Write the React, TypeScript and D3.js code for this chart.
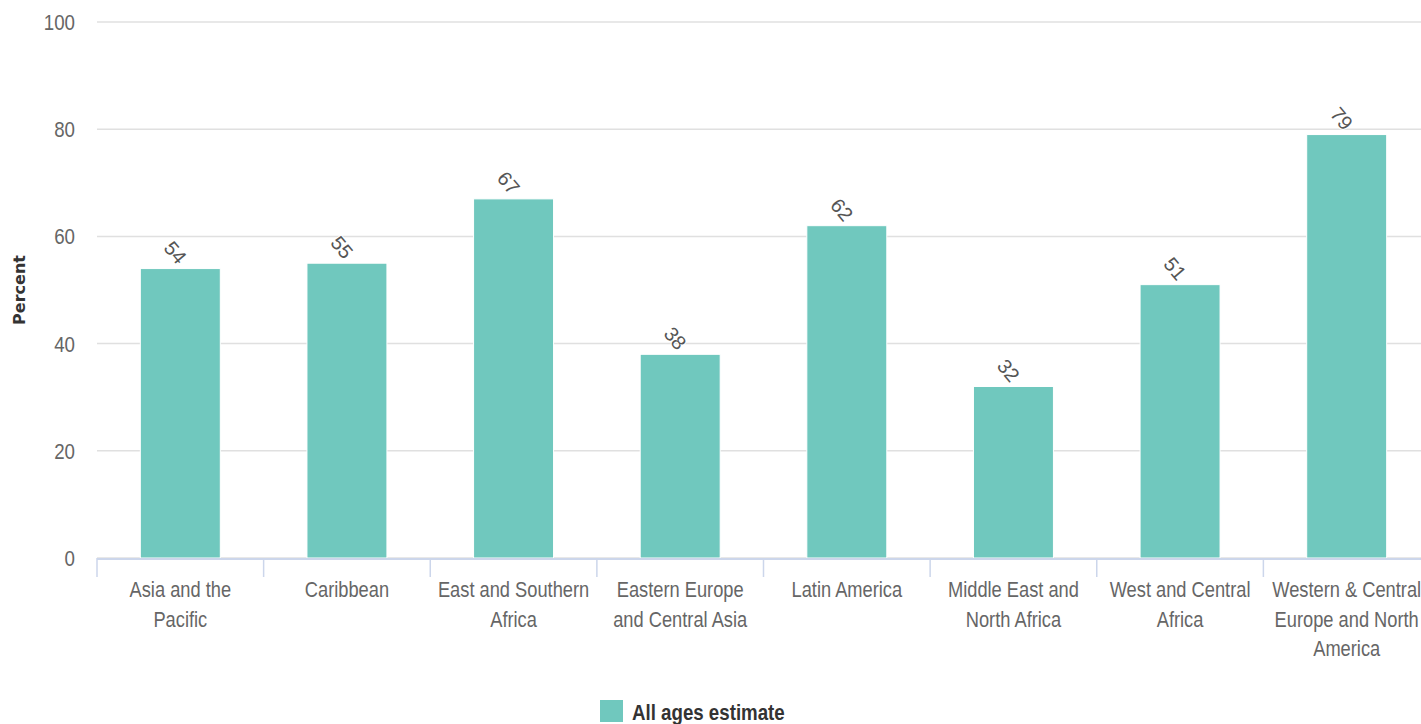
import React from "react";
import * as d3 from "d3";

const categories = [
  "Asia and the Pacific",
  "Caribbean",
  "East and Southern Africa",
  "Eastern Europe and Central Asia",
  "Latin America",
  "Middle East and North Africa",
  "West and Central Africa",
  "Western & Central Europe and North America",
];
const categoryLines = [
  ["Asia and the", "Pacific"],
  ["Caribbean"],
  ["East and Southern", "Africa"],
  ["Eastern Europe", "and Central Asia"],
  ["Latin America"],
  ["Middle East and", "North Africa"],
  ["West and Central", "Africa"],
  ["Western & Central", "Europe and North", "America"],
];
const allAgesEstimate = [54, 55, 67, 38, 62, 32, 51, 79];
const yTicks = [0, 20, 40, 60, 80, 100];
const seriesName = "All ages estimate";
const yTitle = "Percent";

const W = 1421;
const H = 724;
// the category band runs a little past the visible right edge
const M = { left: 97, right: 1430, gridRight: 1421, top: 22, bottom: 558 };
const BAR = "#70c8be";
const FONT = "'Liberation Sans', Arial, sans-serif";
const SX = 0.85; // horizontal condensing for the narrow label face

// Text drawn through a horizontal squeeze so it reads as a condensed face
function NText({
  x,
  y,
  anchor = "middle",
  size,
  weight,
  fill,
  children,
}: {
  x: number;
  y: number;
  anchor?: string;
  size: number;
  weight?: string;
  fill: string;
  children: React.ReactNode;
}) {
  return (
    <g transform={`translate(${x},${y}) scale(${SX},1)`}>
      <text x={0} y={0} textAnchor={anchor} fontFamily={FONT} fontSize={size} fontWeight={weight} fill={fill}>
        {children}
      </text>
    </g>
  );
}

export default function App() {
  const x = d3
    .scaleBand<string>()
    .domain(categories)
    .range([M.left, M.right])
    .paddingInner(0.52)
    .paddingOuter(0.26);
  const band = d3.scaleBand<string>().domain(categories).range([M.left, M.right]);
  const y = d3.scaleLinear().domain([0, 100]).range([M.bottom, M.top]);

  return (
    <svg width={W} height={H} style={{ position: "absolute", left: 0, top: 0, background: "#fff" }}>
      {/* grid */}
      {yTicks.map((t) => (
        <line key={t} x1={M.left} x2={M.gridRight} y1={y(t)} y2={y(t)} stroke="#e0e0e0" strokeWidth={1.5} />
      ))}
      {/* y tick labels */}
      {yTicks.map((t) => (
        <NText key={"l" + t} x={75} y={y(t) + 8} anchor="end" size={22} fill="#666">
          {t}
        </NText>
      ))}
      <text
        transform={`translate(25,290) rotate(-90)`}
        textAnchor="middle"
        fontFamily="'DejaVu Sans', Verdana, sans-serif"
        fontWeight="bold"
        fontSize={16}
        fill="#333"
      >
        {yTitle}
      </text>
      {/* bars */}
      {categories.map((c, i) => (
        <rect
          key={c}
          x={x(c)!}
          y={y(allAgesEstimate[i])}
          width={x.bandwidth()}
          height={y(0) - y(allAgesEstimate[i])}
          fill={BAR}
          stroke="#fff"
          strokeWidth={1}
        />
      ))}
      {/* axis line and ticks */}
      <line x1={M.left} x2={M.gridRight} y1={M.bottom + 1} y2={M.bottom + 1} stroke="#ccd6eb" strokeWidth={2} />
      {categories.map((c) => (
        <line
          key={"t" + c}
          x1={band(c)!}
          x2={band(c)!}
          y1={M.bottom}
          y2={M.bottom + 19}
          stroke="#ccd6eb"
          strokeWidth={1.5}
        />
      ))}
      {/* category labels */}
      {categories.map((c, i) =>
        categoryLines[i].map((ln, j) => (
          <NText
            key={c + j}
            x={band(c)! + band.bandwidth() / 2}
            y={597 + j * 29.5}
            size={21.5}
            fill="#666"
          >
            {ln}
          </NText>
        ))
      )}
      {/* value labels */}
      {categories.map((c, i) => {
        const cx = x(c)! + x.bandwidth() / 2 - 5;
        const cy = y(allAgesEstimate[i]) - 16;
        return (
          <text
            key={"v" + c}
            transform={`translate(${cx},${cy}) rotate(50)`}
            textAnchor="middle"
            dy="0.35em"
            fontFamily={FONT}
            fontSize={20}
            fill="#555"
            stroke="#fff"
            strokeWidth={2}
            paintOrder="stroke"
          >
            {allAgesEstimate[i]}
          </text>
        );
      })}
      {/* legend */}
      <rect x={600} y={700} width={23} height={22} fill={BAR} />
      <NText x={632} y={720} anchor="start" size={22} weight="bold" fill="#333">
        {seriesName}
      </NText>
    </svg>
  );
}
